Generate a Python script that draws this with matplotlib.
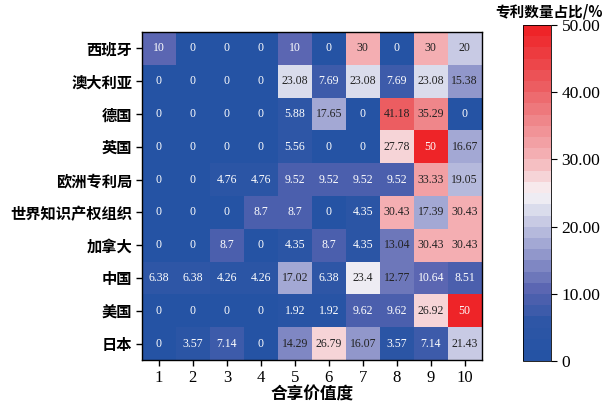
import numpy as np
import matplotlib
matplotlib.use("Agg")
import matplotlib.pyplot as plt
from matplotlib.colors import LinearSegmentedColormap
from matplotlib.ticker import FuncFormatter

plt.rcParams['font.family'] = ['Liberation Serif', 'Noto Sans CJK SC']

countries = ["西班牙", "澳大利亚", "德国", "英国", "欧洲专利局",
             "世界知识产权组织", "加拿大", "中国", "美国", "日本"]
value_levels = [1, 2, 3, 4, 5, 6, 7, 8, 9, 10]

share = np.array([
    [10, 0, 0, 0, 10, 0, 30, 0, 30, 20],
    [0, 0, 0, 0, 23.08, 7.69, 23.08, 7.69, 23.08, 15.38],
    [0, 0, 0, 0, 5.88, 17.65, 0, 41.18, 35.29, 0],
    [0, 0, 0, 0, 5.56, 0, 0, 27.78, 50, 16.67],
    [0, 0, 4.76, 4.76, 9.52, 9.52, 9.52, 9.52, 33.33, 19.05],
    [0, 0, 0, 8.7, 8.7, 0, 4.35, 30.43, 17.39, 30.43],
    [0, 0, 8.7, 0, 4.35, 8.7, 4.35, 13.04, 30.43, 30.43],
    [6.38, 6.38, 4.26, 4.26, 17.02, 6.38, 23.4, 12.77, 10.64, 8.51],
    [0, 0, 0, 0, 1.92, 1.92, 9.62, 9.62, 26.92, 50],
    [0, 3.57, 7.14, 0, 14.29, 26.79, 16.07, 3.57, 7.14, 21.43],
])

# blue -> white -> red, blue side stays dark longer
cmap = LinearSegmentedColormap.from_list("bwr_patent", [
    (0.00, "#2553a4"),
    (0.10, "#2d56a6"),
    (0.20, "#5763b0"),
    (0.35, "#a6aad5"),
    (0.46, "#e0e2ef"),
    (0.50, "#f8f4f6"),
    (0.60, "#f5b6ba"),
    (0.70, "#f08f93"),
    (0.82, "#ec6064"),
    (1.00, "#ee2428"),
], N=30)
vmin, vmax = 0, 50

fig = plt.figure(figsize=(6.09, 4.04), dpi=100)
ax = fig.add_axes([0.233, 0.109, 0.558, 0.812])
cax = fig.add_axes([0.859, 0.106, 0.046, 0.832])

mesh = ax.pcolormesh(share, cmap=cmap, vmin=vmin, vmax=vmax)
ax.set_xlim(0, len(value_levels))
ax.set_ylim(len(countries), 0)

cjk = ['Noto Sans CJK SC']
ax.set_xticks(np.arange(len(value_levels)) + 0.5)
ax.set_xticklabels([str(v) for v in value_levels], fontsize=12)
ax.set_yticks(np.arange(len(countries)) + 0.5)
ax.set_yticklabels(countries, fontsize=11, family=cjk, fontweight='bold')
ax.tick_params(length=4, width=1, pad=3)
ax.set_xlabel("合享价值度", fontsize=12, family=cjk, fontweight='bold', labelpad=0)
for s in ax.spines.values():
    s.set_linewidth(1.0)

for i in range(share.shape[0]):
    for j in range(share.shape[1]):
        v = share[i, j]
        color = "#222222" if 11 < v < 45 else "white"
        ax.text(j + 0.5, i + 0.5, f"{v:g}", ha="center", va="center",
                fontsize=8.5, color=color)

cb = fig.colorbar(mesh, cax=cax)
cb.outline.set_linewidth(0.6)
cb.set_ticks([0, 10, 20, 30, 40, 50])
cb.ax.yaxis.set_major_formatter(
    FuncFormatter(lambda x, p: "0" if x == 0 else f"{x:.2f}"))
cb.ax.tick_params(labelsize=12.5, length=4, width=0.8)
fig.text(0.902, 0.972, "专利数量占比/%", fontsize=10.5, family=cjk,
         fontweight='bold', ha="center", va="center")

fig.savefig("out.png", dpi=100)
